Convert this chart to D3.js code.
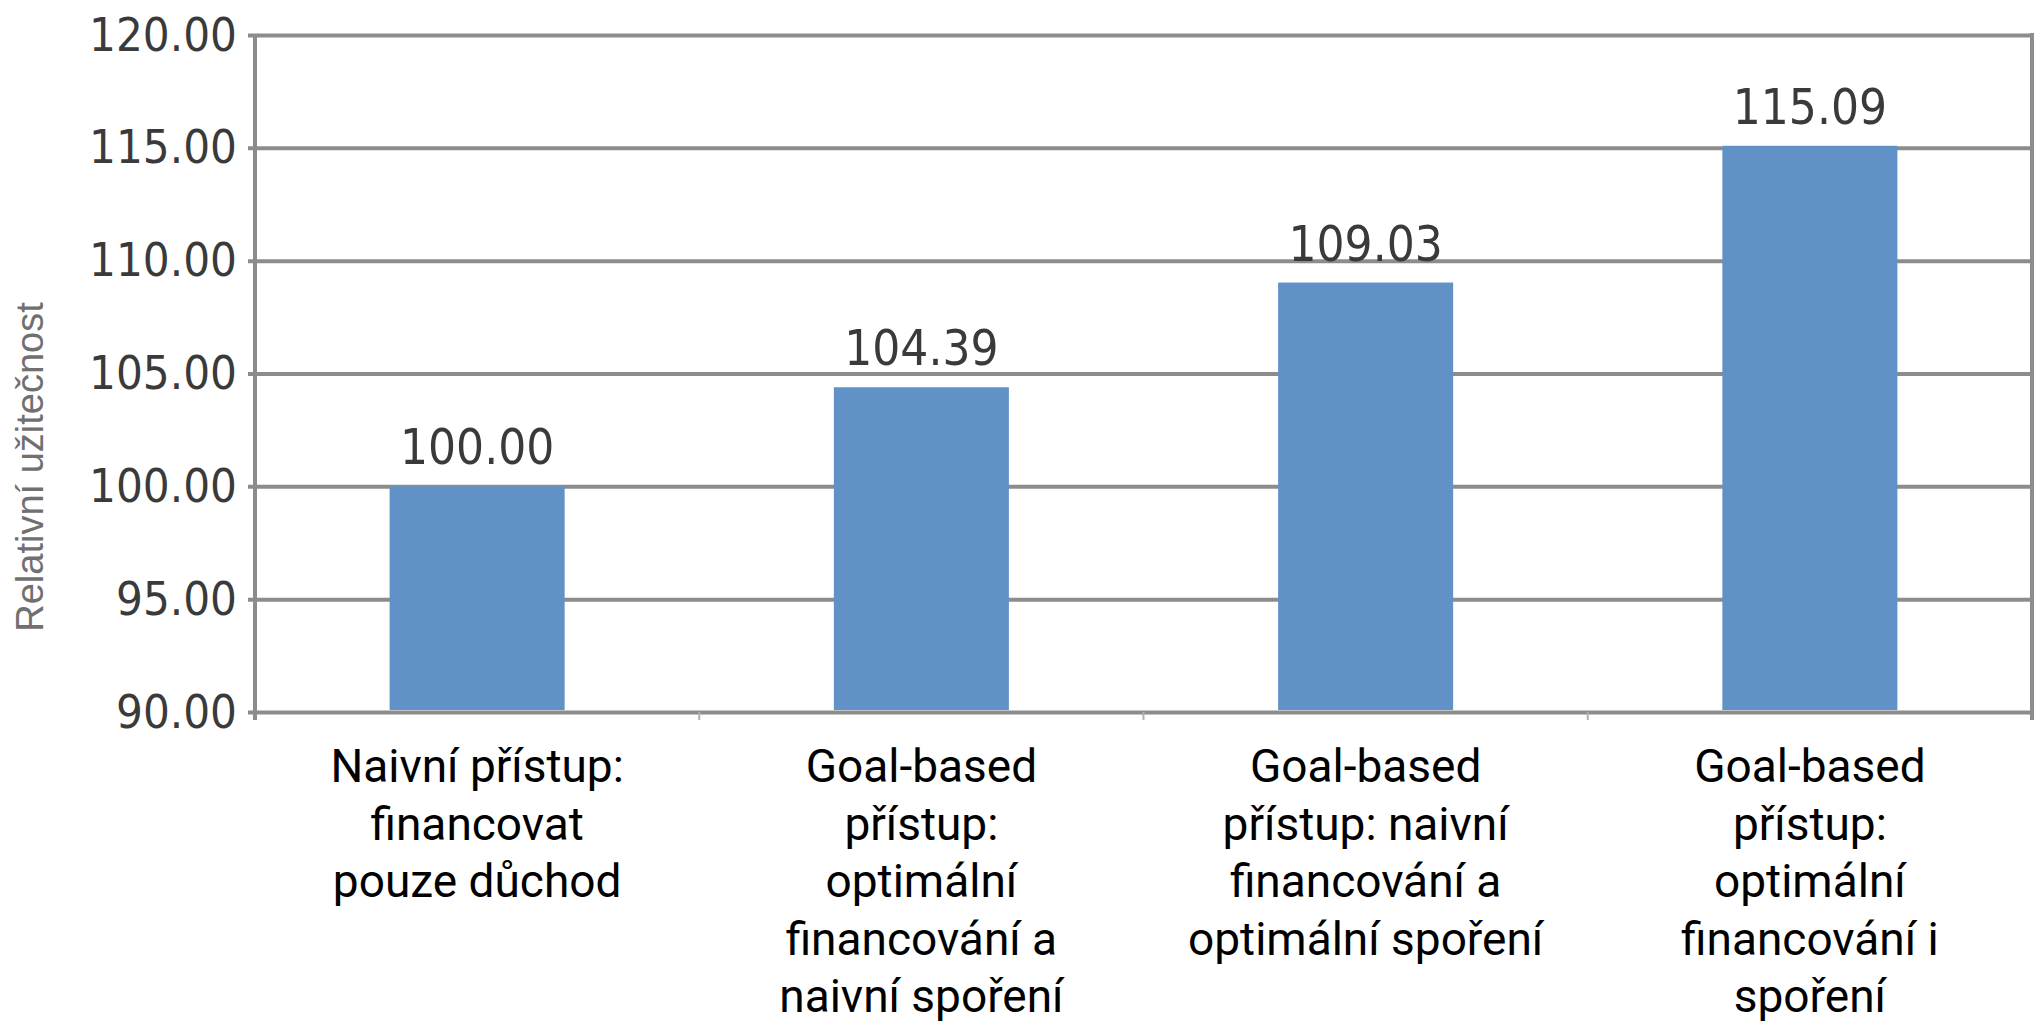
<!DOCTYPE html>
<html><head><meta charset="utf-8">
<script src="https://cdn.jsdelivr.net/npm/d3@7"></script>
<style>body{margin:0;background:#fff}svg{display:block}</style>
</head><body>
<svg id="c" width="2035" height="1024"></svg>
<script>
const categories = [
  ["Naivní přístup:", "financovat", "pouze důchod"],
  ["Goal-based", "přístup:", "optimální", "financování a", "naivní spoření"],
  ["Goal-based", "přístup: naivní", "financování a", "optimální spoření"],
  ["Goal-based", "přístup:", "optimální", "financování i", "spoření"]
];
const values = [100.00, 104.39, 109.03, 115.09];
const yTicks = [90, 95, 100, 105, 110, 115, 120];
const yTitle = "Relativní užitečnost";

const svg = d3.select("#c");
const L = 255, R = 2032, T = 35, B = 712;
const x = d3.scaleBand().domain(d3.range(values.length)).range([L, R]).paddingInner(0.606).paddingOuter(0.303);
const y = d3.scaleLinear().domain([90, 120]).range([B, T]);
const grid = "#8c8c8c";

// gridlines
const yAxis = d3.axisLeft(y).tickValues(yTicks).tickSize(-(R - L)).tickPadding(18).tickFormat(d3.format(".2f"));
const gy = svg.append("g").attr("transform", `translate(${L},0)`).call(yAxis);
gy.select(".domain").remove();
gy.selectAll(".tick line").attr("stroke", grid).attr("stroke-width", 4).attr("x1", -7);
gy.selectAll(".tick text").attr("fill", "#3a3a3a").style("font-family", "'DejaVu Sans Condensed','DejaVu Sans',sans-serif")
  .style("font-size", "47px").style("font-stretch", "condensed");

// left axis & right border
svg.append("line").attr("x1", L).attr("x2", L).attr("y1", T).attr("y2", B + 8).attr("stroke", grid).attr("stroke-width", 4);
svg.append("line").attr("x1", R).attr("x2", R).attr("y1", T - 2).attr("y2", B + 8).attr("stroke", grid).attr("stroke-width", 4);

// x tick marks at band boundaries
const bounds = d3.range(1, values.length).map(i => L + i * (R - L) / values.length);
svg.selectAll(".xt").data(bounds).join("line").attr("x1", d => d).attr("x2", d => d)
  .attr("y1", B).attr("y2", B + 8).attr("stroke", "#b0b0b0").attr("stroke-width", 2);

// bars
svg.selectAll(".bar").data(values).join("rect").attr("class", "bar")
  .attr("x", (d, i) => x(i)).attr("width", x.bandwidth())
  .attr("y", d => y(d)).attr("height", d => y(90) - y(d) - 2).attr("fill", "#6092c8");

// value labels
svg.selectAll(".vl").data(values).join("text")
  .attr("x", (d, i) => x(i) + x.bandwidth() / 2).attr("y", d => y(d) - 22)
  .attr("text-anchor", "middle").attr("fill", "#3a3a3a")
  .style("font-family", "'DejaVu Sans Condensed','DejaVu Sans',sans-serif").style("font-size", "49px").style("font-stretch", "condensed")
  .text(d => d3.format(".2f")(d));

// category labels
const cl = svg.selectAll(".cl").data(categories).join("text")
  .attr("text-anchor", "middle").attr("fill", "#000")
  .style("font-family", "Roboto, sans-serif").style("font-size", "46px");
cl.each(function(lines, i) {
  d3.select(this).selectAll("tspan").data(lines).join("tspan")
    .attr("x", x(i) + x.bandwidth() / 2).attr("y", (d, j) => 782 + j * 57.5).text(d => d);
});

// y title
svg.append("text").attr("transform", "translate(43,467) rotate(-90)").attr("text-anchor", "middle")
  .attr("fill", "#707070").style("font-family", "'Liberation Sans', Arial, sans-serif").style("font-size", "38px").text(yTitle);
</script>
</body></html>
